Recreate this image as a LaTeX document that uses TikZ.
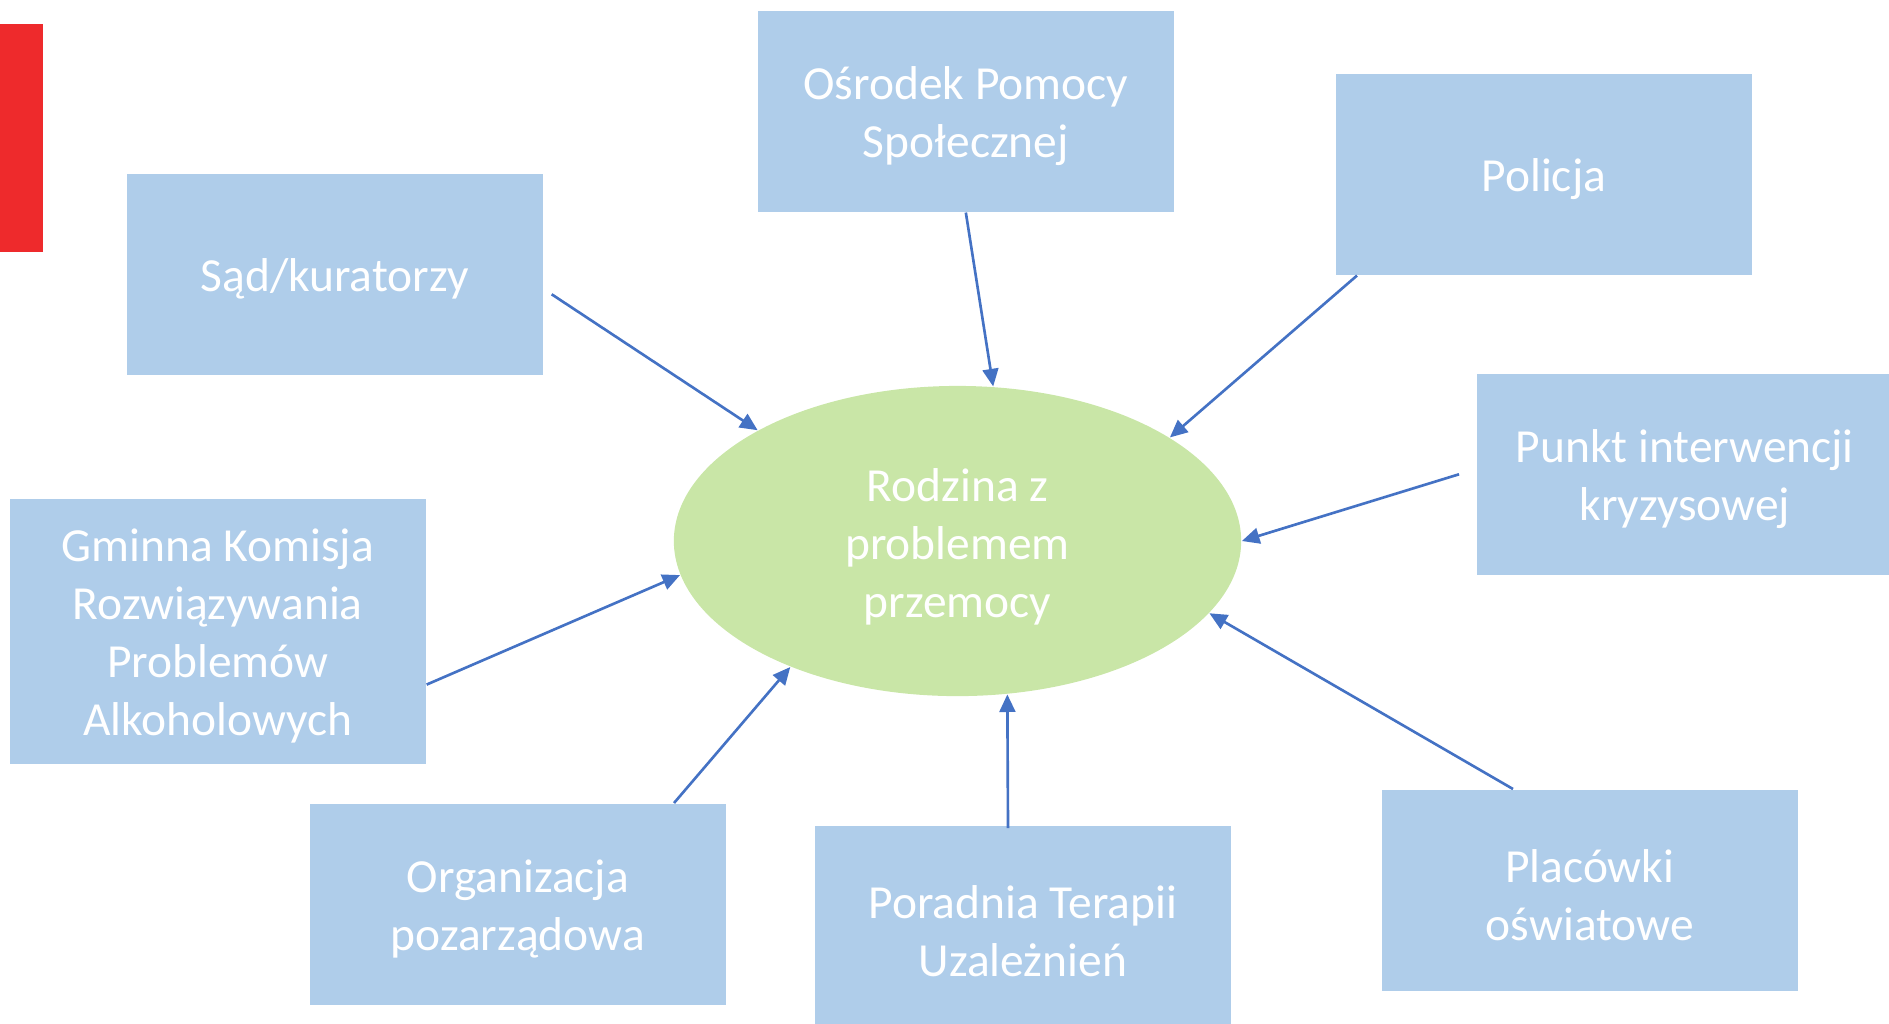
\documentclass[tikz,border=0pt]{standalone}
\usepackage{fontspec}
\setmainfont{Carlito}
\usetikzlibrary{arrows.meta,calc,shapes.geometric}
\definecolor{boxblue}{HTML}{AFCDEA}
\definecolor{elgreen}{HTML}{C9E6A7}
\definecolor{arrblue}{HTML}{4472C4}
\definecolor{barred}{HTML}{EE2A2C}
\begin{document}
\begin{tikzpicture}[x=0.01cm,y=-0.01cm,
  lbl/.style={text=white, align=center, inner sep=0pt, yshift=-0.05cm, font=\fontsize{13.5}{16.5}\selectfont},
  box/.style={rectangle, fill=boxblue, minimum width=4.16cm, minimum height=2.01cm, inner sep=0pt, anchor=north west, label={[lbl]center:#1}},
  conn/.style={draw=arrblue, line width=0.75pt, -{Triangle[length=5pt,width=4.5pt]}}]
\useasboundingbox (0,0) rectangle (1889,1023);
\clip (0,0) rectangle (1889,1023);
\fill[barred] (0,24) rectangle (43,252);
\node[ellipse, fill=elgreen, minimum width=5.67cm, minimum height=3.10cm, inner sep=0pt, label={[lbl, yshift=-0.01cm]center:Rodzina z\\problemem\\przemocy}] (rod) at (957.5,541) {};
\node[box={Ośrodek Pomocy\\Społecznej}] (osr) at (757,10) {};
\node[box={Policja}] (pol) at (1335,73) {};
\node[box={Sąd/kuratorzy}] (sad) at (126,173) {};
\node[box={Punkt interwencji\\kryzysowej}] (pkt) at (1476,373) {};
\node[box={Gminna Komisja\\Rozwiązywania\\Problemów\\Alkoholowych}, minimum height=2.65cm] (gmi) at (9,498) {};
\node[box={Organizacja\\pozarządowa}] (org) at (309,803) {};
\node[box={Poradnia Terapii\\Uzależnień}] (por) at (814,825) {};
\node[box={Placówki\\oświatowe}] (plc) at (1381,789) {};
\draw[conn] ($(sad.east)+(8,20)$) -- (rod.151.6);
\draw[conn] (osr.south) -- (rod.77.8);
\draw[conn] ($(pol.south west)+(22,0)$) -- (rod.26.8);
\draw[conn] ($(pkt.west)+(-17,0)$) -- (rod.0);
\draw[conn] ($(plc.north west)+(132,0)$) -- (rod.-16.7);
\draw[conn] ($(por.north west)+(194,3)$) -- (rod.-72);
\draw[conn] ($(org.north west)+(365,0)$) -- (rod.-143);
\draw[conn] ($(gmi.south east)+(0,-80)$) -- (rod.-173.6);
\end{tikzpicture}
\end{document}
